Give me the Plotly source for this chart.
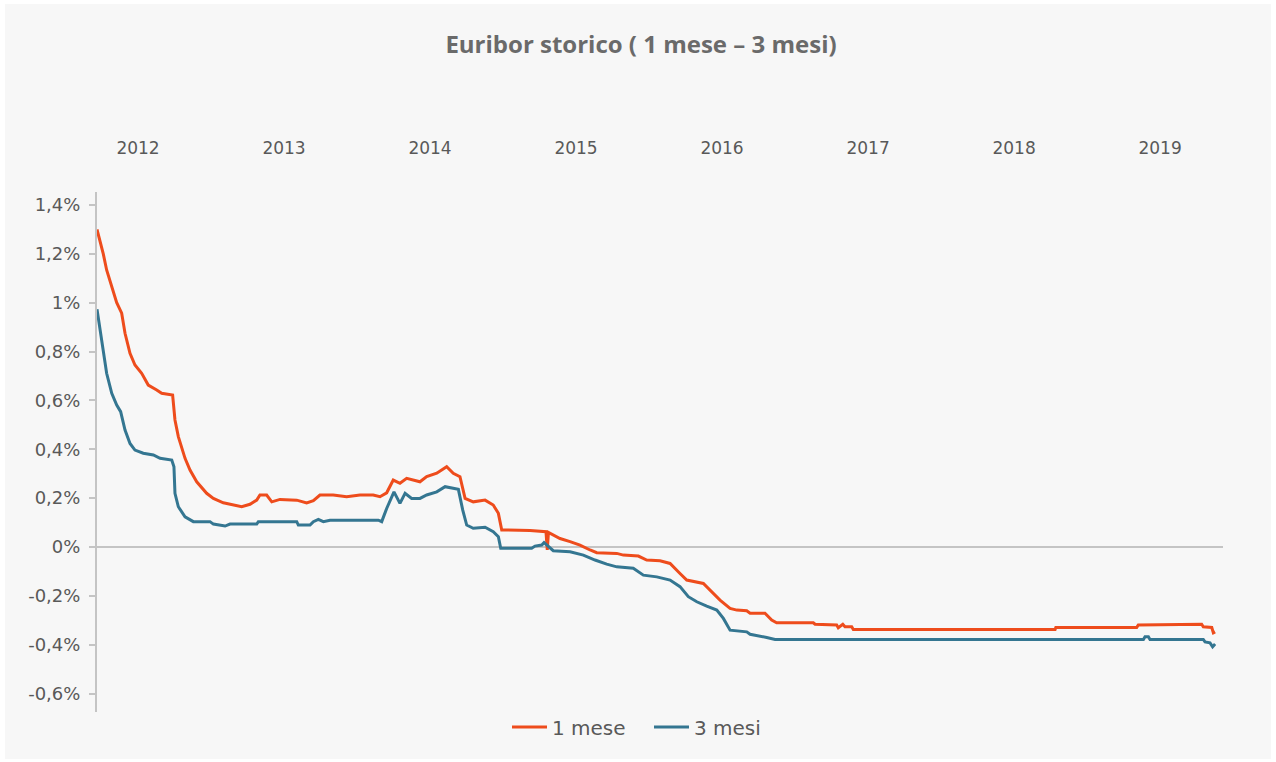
import plotly.graph_objects as go

# ---- data (x = decimal year, y = rate in %) ----
t_1m = [2012.00, 2012.043, 2012.066, 2012.101, 2012.135, 2012.169, 2012.192, 2012.226, 2012.260, 2012.306,
        2012.351, 2012.409, 2012.443, 2012.518, 2012.534, 2012.557, 2012.603, 2012.637, 2012.683, 2012.751,
        2012.797, 2012.865, 2012.934, 2012.991, 2013.048, 2013.094, 2013.116, 2013.162, 2013.197, 2013.253,
        2013.368, 2013.436, 2013.482, 2013.527, 2013.618, 2013.710, 2013.801, 2013.892, 2013.938, 2013.984,
        2014.029, 2014.075, 2014.121, 2014.212, 2014.258, 2014.327, 2014.395, 2014.440, 2014.486, 2014.521,
        2014.577, 2014.658, 2014.714, 2014.749, 2014.772, 2014.897, 2014.966, 2015.075, 2015.084, 2015.092,
        2015.114, 2015.171, 2015.240, 2015.308, 2015.377, 2015.423, 2015.560, 2015.605, 2015.708, 2015.765,
        2015.856, 2015.925, 2015.993, 2016.039, 2016.153, 2016.199, 2016.267, 2016.336, 2016.382, 2016.450,
        2016.473, 2016.575, 2016.598, 2016.621, 2016.655, 2016.906, 2016.918, 2017.066, 2017.077, 2017.108,
        2017.123, 2017.169, 2017.180, 2018.562, 2018.567, 2019.121, 2019.132, 2019.566, 2019.577, 2019.635,
        2019.646, 2019.658]
v_1m = [1.30, 1.20, 1.134, 1.066, 1.00, 0.957, 0.875, 0.793, 0.745, 0.711,
        0.663, 0.643, 0.629, 0.622, 0.520, 0.452, 0.363, 0.315, 0.267, 0.220,
        0.199, 0.181, 0.172, 0.165, 0.175, 0.192, 0.213, 0.213, 0.185, 0.195,
        0.192, 0.181, 0.190, 0.213, 0.213, 0.206, 0.213, 0.213, 0.206, 0.222,
        0.274, 0.261, 0.281, 0.267, 0.288, 0.302, 0.329, 0.302, 0.288, 0.199,
        0.185, 0.192, 0.172, 0.138, 0.070, 0.070, 0.068, 0.063, -0.012, 0.060,
        0.053, 0.035, 0.022, 0.008, -0.012, -0.023, -0.026, -0.033, -0.037, -0.053,
        -0.056, -0.067, -0.108, -0.135, -0.149, -0.176, -0.217, -0.251, -0.258, -0.261,
        -0.271, -0.271, -0.285, -0.299, -0.310, -0.310, -0.316, -0.319, -0.330, -0.316,
        -0.326, -0.326, -0.337, -0.337, -0.329, -0.329, -0.319, -0.316, -0.326, -0.329,
        -0.351, -0.347]

t_3m = [2012.00, 2012.021, 2012.043, 2012.066, 2012.101, 2012.135, 2012.162, 2012.192, 2012.226, 2012.260,
        2012.317, 2012.386, 2012.432, 2012.512, 2012.527, 2012.534, 2012.557, 2012.603, 2012.660, 2012.774,
        2012.797, 2012.877, 2012.911, 2013.094, 2013.105, 2013.368, 2013.379, 2013.459, 2013.482, 2013.516,
        2013.550, 2013.596, 2013.927, 2013.950, 2013.984, 2014.007, 2014.034, 2014.075, 2014.110, 2014.155,
        2014.212, 2014.258, 2014.327, 2014.384, 2014.429, 2014.475, 2014.505, 2014.532, 2014.577, 2014.658,
        2014.714, 2014.749, 2014.765, 2014.977, 2015.000, 2015.046, 2015.062, 2015.091, 2015.125, 2015.240,
        2015.331, 2015.411, 2015.491, 2015.560, 2015.673, 2015.742, 2015.834, 2015.925, 2015.993, 2016.050,
        2016.108, 2016.176, 2016.245, 2016.290, 2016.336, 2016.450, 2016.473, 2016.587, 2016.644, 2019.167,
        2019.178, 2019.201, 2019.212, 2019.577, 2019.589, 2019.623, 2019.641, 2019.658]
v_3m = [0.973, 0.888, 0.793, 0.711, 0.629, 0.581, 0.554, 0.479, 0.424, 0.397,
        0.384, 0.377, 0.363, 0.356, 0.329, 0.220, 0.165, 0.124, 0.104, 0.104,
        0.094, 0.086, 0.094, 0.094, 0.104, 0.104, 0.090, 0.090, 0.104, 0.113,
        0.104, 0.110, 0.110, 0.104, 0.158, 0.192, 0.226, 0.179, 0.220, 0.199,
        0.199, 0.213, 0.226, 0.247, 0.240, 0.236, 0.151, 0.090, 0.077, 0.081,
        0.063, 0.042, -0.005, -0.005, 0.004, 0.008, 0.018, 0.001, -0.015, -0.019,
        -0.033, -0.053, -0.070, -0.081, -0.087, -0.115, -0.122, -0.135, -0.162, -0.203,
        -0.224, -0.242, -0.258, -0.292, -0.340, -0.347, -0.357, -0.370, -0.378, -0.378,
        -0.367, -0.367, -0.378, -0.378, -0.388, -0.392, -0.408, -0.397]

year_labels = ["2012", "2013", "2014", "2015", "2016", "2017", "2018", "2019"]
year_pos = [2012.281, 2013.281, 2014.281, 2015.281, 2016.281, 2017.281, 2018.281, 2019.281]
y_ticks = [1.4, 1.2, 1.0, 0.8, 0.6, 0.4, 0.2, 0.0, -0.2, -0.4, -0.6]
y_ticktext = ["1,4%", "1,2%", "1%", "0,8%", "0,6%", "0,4%", "0,2%", "0%", "-0,2%", "-0,4%", "-0,6%"]

ORANGE = "#EE4C1C"
BLUE = "#347691"
TEXT = "#595959"
BG = "#F7F7F7"
FONT = "DejaVu Sans"

fig = go.Figure()
fig.add_trace(go.Scatter(x=t_1m, y=v_1m, mode="lines", name="1 mese",
                         line=dict(color=ORANGE, width=3)))
fig.add_trace(go.Scatter(x=t_3m, y=v_3m, mode="lines", name="3 mesi",
                         line=dict(color=BLUE, width=3)))

fig.add_shape(type="rect", xref="paper", yref="paper",
              x0=-0.0817, x1=1.0426, y0=-0.0904, y1=1.3615,
              fillcolor=BG, line=dict(width=0), layer="below")

fig.update_layout(
    width=1276, height=762,
    paper_bgcolor="white", plot_bgcolor=BG,
    margin=dict(l=97, r=53, t=192, b=50),
    font=dict(family=FONT, color=TEXT, size=17),
    title=dict(text="<b>Euribor storico ( 1 mese – 3 mesi)</b>",
               x=641/1276, xref="container", xanchor="center",
               y=1-45/762, yref="container", yanchor="middle",
               font=dict(family="Open Sans", size=24, color="#6A6A6A")),
    showlegend=True,
    legend=dict(orientation="h", xref="paper", yref="paper",
                x=(507-97)/1126, xanchor="left", y=(712-727)/520, yanchor="middle",
                font=dict(family=FONT, size=20, color=TEXT),
                bgcolor="rgba(0,0,0,0)", itemwidth=35,
                entrywidth=92, entrywidthmode="pixels"),
    xaxis=dict(range=[2012.0, 2019.712], side="top", tickmode="array",
               tickvals=year_pos, ticktext=year_labels, showgrid=False,
               zeroline=False, showline=False, ticks="", automargin=False,
               ticklabelstandoff=34, tickfont=dict(size=17, color=TEXT)),
    yaxis=dict(range=[-0.675, 1.453], tickmode="array", tickvals=y_ticks,
               ticktext=y_ticktext, showgrid=False, zeroline=True,
               zerolinecolor="#C4C4C4", zerolinewidth=2, showline=True,
               linecolor="#C4C4C4", linewidth=2, ticks="outside", ticklen=6,
               tickcolor="#C4C4C4", tickwidth=2, automargin=False,
               ticklabelstandoff=5, tickfont=dict(size=18, color=TEXT)),
)

fig.write_html("out.html", config={"displayModeBar": False},
               post_script="document.body.style.margin='0';")
